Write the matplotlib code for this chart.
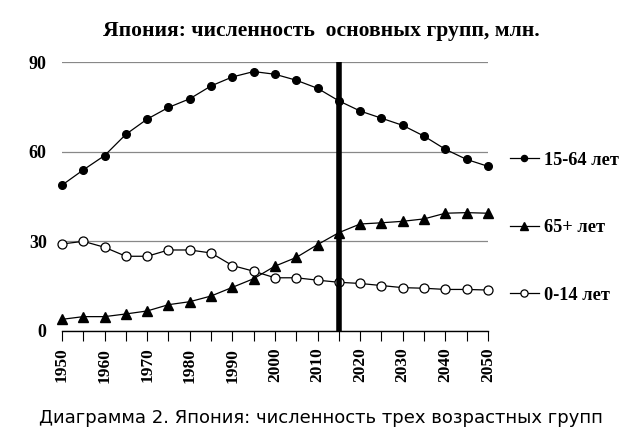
import numpy as np
import matplotlib
matplotlib.use('Agg')
import matplotlib.pyplot as plt

# data, millions
years = list(range(1950, 2051, 5))
age_15_64 = [48.8, 53.9, 58.7, 65.8, 70.9, 74.8, 77.7, 82.0, 85.0, 86.8, 85.9,
             83.9, 81.2, 77.0, 73.6, 71.2, 68.8, 65.2, 60.8, 57.4, 55.1]
age_65 = [3.9, 4.8, 4.8, 5.7, 6.7, 8.8, 9.8, 11.7, 14.6, 17.5, 21.7,
          24.6, 28.9, 32.9, 35.8, 36.2, 36.7, 37.5, 39.4, 39.6, 39.4]
age_0_14 = [29.1, 30.0, 28.0, 25.0, 25.0, 27.1, 27.1, 26.1, 21.9, 20.0, 17.8,
            17.8, 17.0, 16.3, 15.9, 15.2, 14.5, 14.3, 13.9, 13.9, 13.7]
labels = ['15-64 лет', '65+ лет', '0-14 лет']
now_year = 2015

serif = 'Liberation Serif'

fig = plt.figure(figsize=(6.42, 4.48), dpi=100)
ax = fig.add_axes([0.0966, 0.2612, 0.6634, 0.6004])

l1, = ax.plot(years, age_15_64, color='black', lw=0.9, marker='o', ms=5.5,
              mfc='black', mec='black', clip_on=False, zorder=3)
l2, = ax.plot(years, age_65, color='black', lw=0.9, marker='^', ms=7,
              mfc='black', mec='black', clip_on=False, zorder=3)
l3, = ax.plot(years, age_0_14, color='black', lw=0.9, marker='o', ms=6.5,
              mfc='white', mec='black', mew=0.9, clip_on=False, zorder=3)

ax.axvline(now_year, color='black', lw=4, zorder=4)

ax.set_xlim(1950, 2050)
ax.set_ylim(0, 90)
ax.set_yticks([0, 30, 60, 90])
ax.set_xticks(range(1950, 2051, 10))
ax.set_xticks(range(1955, 2050, 10), minor=True)
ax.yaxis.grid(True, color='#888888', lw=0.9)
ax.set_axisbelow(True)

for s in ['top', 'right', 'left']:
    ax.spines[s].set_visible(False)
ax.spines['bottom'].set_linewidth(1.0)
ax.tick_params(axis='y', length=0, pad=11)
ax.tick_params(axis='x', which='both', direction='out', length=7, width=0.8, pad=5)

for t in ax.get_yticklabels():
    t.set_fontfamily(serif)
    t.set_fontweight('bold')
    t.set_fontsize(13)
for t in ax.get_xticklabels():
    t.set_fontfamily(serif)
    t.set_fontweight('bold')
    t.set_fontsize(12.5)
    t.set_rotation(90)

fig.text(0.5, 0.93, 'Япония: численность  основных групп, млн.',
         ha='center', va='center', fontfamily=serif, fontweight='bold', fontsize=15.6)
fig.text(0.5, 0.067, 'Диаграмма 2. Япония: численность трех возрастных групп',
         ha='center', va='center', fontfamily='DejaVu Sans', fontsize=13)

leg = fig.legend([l1, l2, l3], labels, loc='upper left',
                 bbox_to_anchor=(0.768, 0.698), frameon=False,
                 handlelength=1.6, handletextpad=0.3, labelspacing=2.75,
                 markerscale=0.8,
                 prop={'family': serif, 'weight': 'bold', 'size': 13.2})

fig.savefig('out.png', dpi=100, facecolor='white')
